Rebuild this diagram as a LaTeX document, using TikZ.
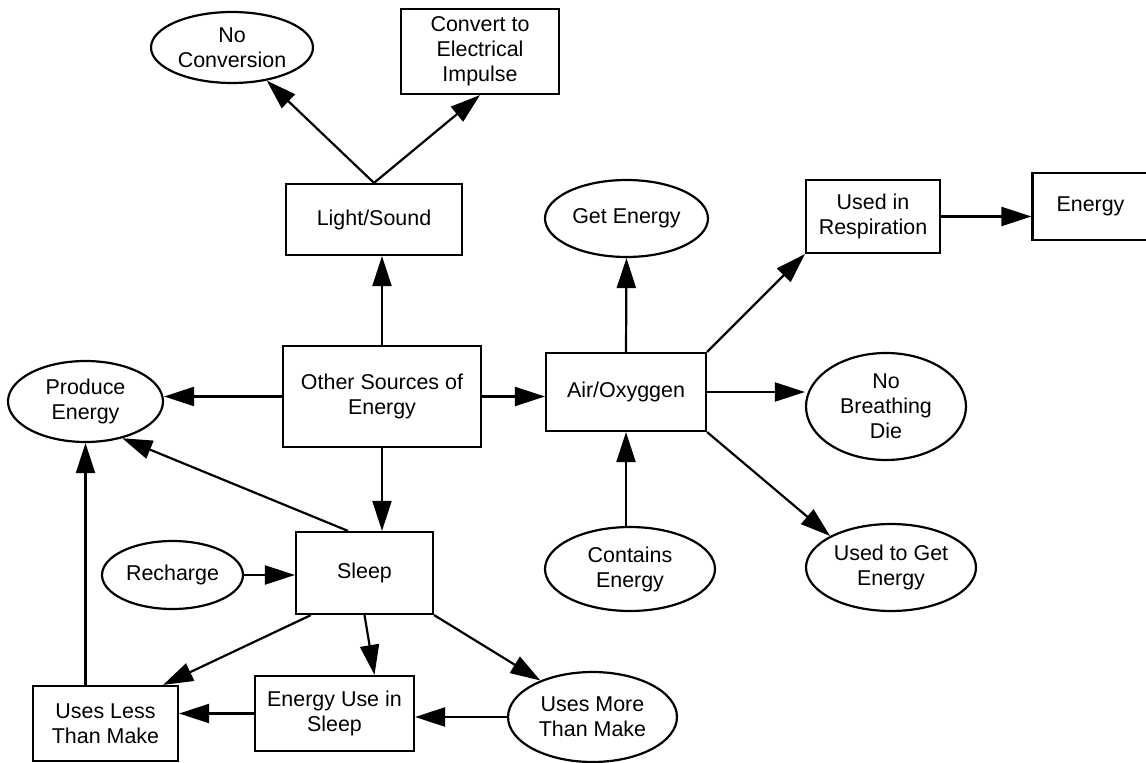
\documentclass[tikz,border=0pt]{standalone}
\usepackage{fontspec}
\setmainfont{Liberation Sans}
\usetikzlibrary{arrows.meta,shapes.geometric}
\tikzset{
  box/.style={rectangle, draw=black, line width=1.25pt, align=center, inner sep=0pt, font=\fontsize{12.2}{14.2}\selectfont},
  oval/.style={ellipse, draw=black, line width=1.25pt, align=center, inner sep=0pt, font=\fontsize{12.2}{14.2}\selectfont},
  arrow/.style={-{Triangle[length=6mm, width=3.8mm]}, line width=1.25pt}
}

\begin{document}
\begin{tikzpicture}[x=0.02cm, y=-0.02cm]
  \useasboundingbox (0,0) rectangle (1146,763);
  % top row
  \node[oval, minimum width=3.24cm, minimum height=1.42cm] (noconv) at (232,47.5) {No\\Conversion};
  \node[box, minimum width=3.16cm, minimum height=1.70cm] (conv) at (480,51.5) {Convert to\\Electrical\\Impulse};
  \node[box, minimum width=3.52cm, minimum height=1.42cm] (ls) at (374,219.5) {Light/Sound};
  \node[oval, minimum width=3.26cm, minimum height=1.54cm] (getE) at (626.5,218.5) {Get Energy};
  \node[box, minimum width=2.68cm, minimum height=1.46cm] (resp) at (873,216.5) {Used in\\Respiration};
  \node[box, minimum width=2.32cm, minimum height=1.34cm] (energy) at (1090.5,206.5) {Energy};
  % middle row
  \node[oval, minimum width=3.10cm, minimum height=1.62cm] (prod) at (85.5,401.5) {Produce\\Energy};
  \node[box, minimum width=3.96cm, minimum height=2.02cm] (other) at (382,396.5) {Other Sources of\\Energy};
  \node[box, minimum width=3.20cm, minimum height=1.56cm] (air) at (626,392) {Air/Oxyggen};
  \node[oval, minimum width=3.20cm, minimum height=2.14cm] (nobr) at (886,406.5) {No\\Breathing\\Die};
  % lower rows
  \node[oval, minimum width=2.82cm, minimum height=1.36cm] (recharge) at (172.5,575) {Recharge};
  \node[box, minimum width=2.74cm, minimum height=1.64cm] (sleep) at (364.5,573) {Sleep};
  \node[oval, minimum width=3.40cm, minimum height=1.68cm] (contains) at (630,569) {Contains\\Energy};
  \node[oval, minimum width=3.40cm, minimum height=1.74cm] (usedget) at (891,567.5) {Used to Get\\Energy};
  \node[box, minimum width=2.90cm, minimum height=1.50cm] (less) at (105.5,723.5) {Uses Less\\Than Make};
  \node[box, minimum width=3.18cm, minimum height=1.50cm] (useinsleep) at (334.5,713.5) {Energy Use in\\Sleep};
  \node[oval, minimum width=3.38cm, minimum height=1.80cm] (more) at (592.5,717) {Uses More\\Than Make};

  \draw[arrow] (ls.north) -- (noconv); \draw[arrow] (ls.north) -- (conv.south);
  \draw[arrow] (other.north) -- (other.north |- ls.south);
  \draw[arrow] (other.west) -- (other.west -| prod.east);
  \draw[arrow] (other.east) -- (other.east -| air.west);
  \draw[arrow] (other.south) -- (other.south |- sleep.north);
  \draw[arrow] (air.north) -- (getE.south); \draw[arrow] (air.north east) -- (resp.south west);
  \draw[arrow] (air.east) -- (air.east -| nobr.west); \draw[arrow] (air.south east) -- (usedget.north west);
  \draw[arrow] (air.south |- contains.north) -- (air.south);
  \draw[arrow] (resp.east) -- (resp.east -| energy.west);
  \draw[arrow] ([xshift=-0.33cm]sleep.north) -- (prod.-45);
  \draw[arrow] (recharge.east) -- (recharge.east -| sleep.west);
  \draw[arrow] ([xshift=0.32cm]sleep.south west) -- ([xshift=-0.32cm]less.north east);
  \draw[arrow] (sleep.south) -- ([xshift=0.8cm]useinsleep.north);
  \draw[arrow] (sleep.south east) -- (more.145);
  \draw[arrow] (more.west) -- (useinsleep.east |- more.west);
  \draw[arrow] (useinsleep.west) -- (less.east |- useinsleep.west);
  \draw[arrow] (prod.south |- less.north) -- (prod.south);
\end{tikzpicture}
\end{document}
